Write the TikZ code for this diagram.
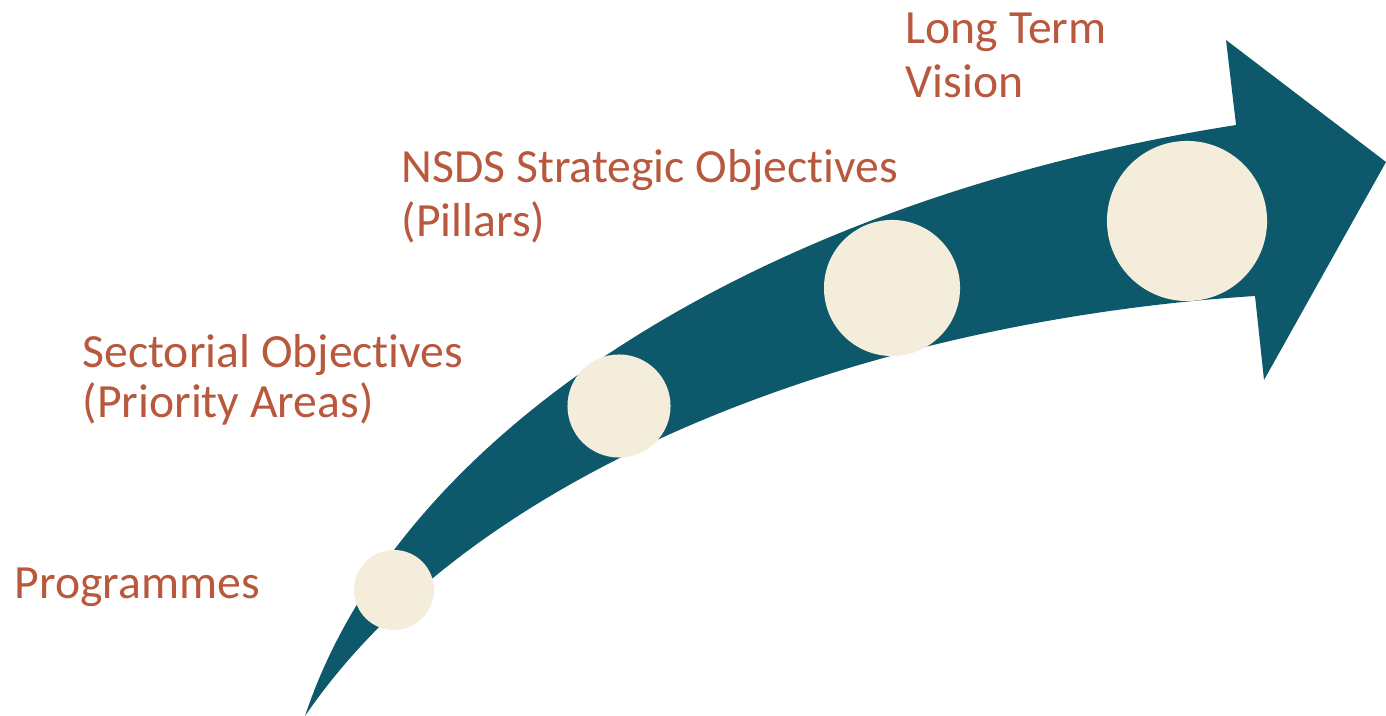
\documentclass[tikz,border=0pt]{standalone}
\usepackage{fontspec}
\setmainfont[Ligatures=NoCommon]{Carlito}
\definecolor{arrowteal}{RGB}{13,89,107}
\definecolor{dotcream}{RGB}{245,237,220}
\definecolor{labelrust}{RGB}{184,88,60}
\begin{document}
\begin{tikzpicture}[x=0.01cm,y=-0.01cm,
  dot/.style={circle,fill=dotcream,draw=none,inner sep=0pt},
  lbl/.style={anchor=base west,inner sep=0pt,text=labelrust,align=left,
    font=\fontsize{13.55pt}{15.6pt}\selectfont}]
\useasboundingbox (0,0) rectangle (1386,716);
% arrow body and head
\fill[arrowteal] (305,716) .. controls (400,430) and (760,200) .. (1236,125)
  -- (1226,40) -- (1386,162) -- (1264,380) -- (1255,296)
  .. controls (880,320) and (480,460) .. (305,716) -- cycle;
% circles
\node[dot,minimum size=0.80cm] (c1) at (394,590) {};
\node[dot,minimum size=1.03cm] (c2) at (619,406) {};
\node[dot,minimum size=1.36cm] (c3) at (892,288) {};
\node[dot,minimum size=1.60cm] (c4) at (1187,221) {};
% labels (anchored at the baseline of the last line)
\node[lbl] (t1) at (14,598) {Programmes};
\node[lbl,font=\fontsize{13.55pt}{14.2pt}\selectfont] (t2) at (82,417) {Sectorial Objectives\\(Priority Areas)};
\node[lbl] (t3) at (401,237) {NSDS Strategic Objectives\\(Pillars)};
\node[lbl] (t4) at (905,98) {Long Term\\Vision};
\end{tikzpicture}
\end{document}
